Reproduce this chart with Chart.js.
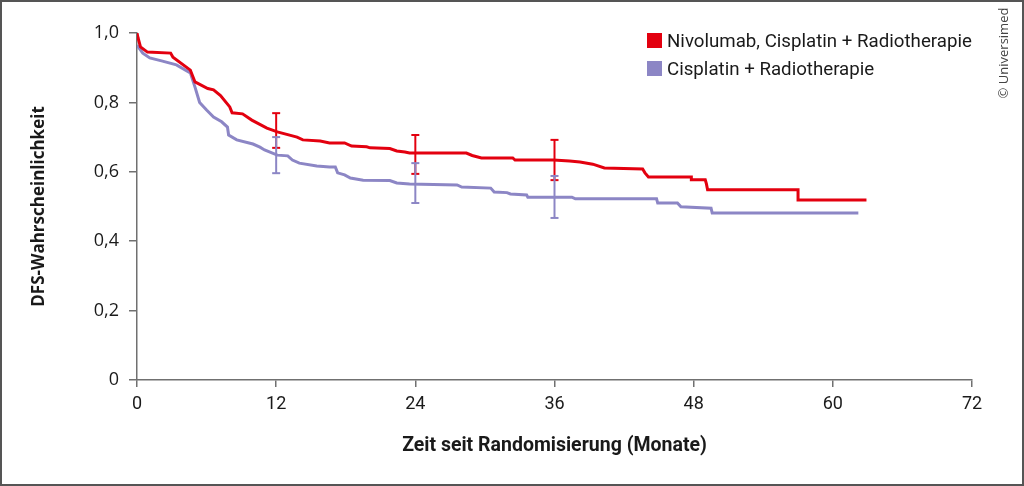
<!DOCTYPE html>
<html>
<head>
<meta charset="utf-8">
<script src="https://cdn.jsdelivr.net/npm/chart.js@4.4.1/dist/chart.umd.min.js"></script>
<style>
  body { margin: 0; background: #fff; }
  #wrap { position: relative; width: 1024px; height: 486px; overflow: hidden; }
  #frame { position: absolute; left: 0; top: 0; width: 1024px; height: 486px; box-sizing: border-box; border: 2px solid #555; pointer-events: none; }
  .leg { position: absolute; left: 647px; font: 18.7px Roboto, sans-serif; color: #1a1a1a; white-space: nowrap; }
  .leg span { display: inline-block; width: 15px; height: 15px; vertical-align: top; margin-right: 5px; margin-top: 3px; }
  #copy { position: absolute; left: 1003px; top: 53px; transform: translate(-50%, -50%) rotate(-90deg); font: 13px "Open Sans", sans-serif; color: #444; white-space: nowrap; }
</style>
</head>
<body>
<div id="wrap">
  <canvas id="km" width="1024" height="486"></canvas>
  <div class="leg" id="leg1" style="top:30px"></div>
  <div class="leg" id="leg2" style="top:58px"></div>
  <div id="copy">© Universimed</div>
  <div id="frame"></div>
</div>
<script>
const seriesNames = ['Nivolumab, Cisplatin + Radiotherapie', 'Cisplatin + Radiotherapie'];
const seriesColors = ['#e3000f', '#8c86c5'];

// Nivolumab, Cisplatin + Radiotherapie
const nivoMonths = [0, 0.1, 0.3, 0.9, 2.9, 3.1, 4.6, 5.0, 6.1, 6.6, 7.2, 8.0, 8.2, 9.1, 9.9, 11.2, 12.1, 13.8, 14.3, 15.8, 16.6,
  17.9, 18.5, 19.8, 20.1, 21.8, 22.4, 23.1, 23.5, 28.4, 28.9, 29.7, 32.4, 32.6, 35.9, 37.3, 38.2, 39.3, 40.3, 43.6, 43.8, 44.1,
  47.8, 47.8, 49.0, 49.1, 49.2, 57.0, 57.0, 62.9];
const nivoDfs = [1.0, 0.985, 0.96, 0.945, 0.942, 0.93, 0.893, 0.859, 0.84, 0.836, 0.82, 0.787, 0.77, 0.767, 0.749, 0.726, 0.715, 0.70, 0.692, 0.689, 0.683,
  0.683, 0.674, 0.672, 0.669, 0.667, 0.66, 0.657, 0.654, 0.654, 0.647, 0.64, 0.64, 0.634, 0.634, 0.631, 0.628, 0.622, 0.611, 0.608, 0.597, 0.585,
  0.585, 0.577, 0.577, 0.565, 0.548, 0.548, 0.519, 0.519];

// Cisplatin + Radiotherapie
const cisMonths = [0, 0.5, 1.1, 2.2, 3.4, 4.6, 5.0, 5.4, 6.0, 6.6, 7.3, 7.8, 7.9, 8.6, 10.0, 10.6, 11.0, 12.1, 13.0, 13.4, 14.0, 15.5, 16.6,
  17.1, 17.3, 17.9, 18.4, 19.5, 21.8, 22.4, 23.5, 27.6, 28.0, 30.5, 30.8, 31.9, 32.2, 33.6, 33.7, 37.5, 37.8, 44.8, 44.9, 46.6, 46.9,
  49.5, 49.6, 62.2];
const cisDfs = [0.965, 0.942, 0.928, 0.919, 0.908, 0.885, 0.844, 0.80, 0.778, 0.758, 0.744, 0.729, 0.706, 0.692, 0.68, 0.671, 0.663, 0.648, 0.646, 0.634, 0.625, 0.617, 0.614,
  0.614, 0.597, 0.591, 0.582, 0.576, 0.575, 0.568, 0.565, 0.562, 0.556, 0.553, 0.542, 0.540, 0.536, 0.533, 0.527, 0.527, 0.522, 0.522, 0.51, 0.51, 0.499,
  0.495, 0.481, 0.481];

// 95%-KI an 12, 24, 36 Monaten
const ciMonths = [12, 24, 36];
const nivoCiLow = [0.669, 0.594, 0.576];
const nivoCiHigh = [0.769, 0.706, 0.692];
const cisCiLow = [0.596, 0.51, 0.467];
const cisCiHigh = [0.70, 0.625, 0.588];

const xTicks = [0, 12, 24, 36, 48, 60, 72];
const yTicks = [0, 0.2, 0.4, 0.6, 0.8, 1.0];

function toPoints(xs, ys) {
  return xs.map((x, i) => ({ x: x, y: ys[i] }));
}

function curve(label, xs, ys, color, order) {
  return {
    label: label,
    data: toPoints(xs, ys),
    borderColor: color,
    borderWidth: 3,
    pointRadius: 0,
    tension: 0,
    fill: false,
    order: order
  };
}

function errorBars(xs, lows, highs, color) {
  return xs.map((x, i) => ({
    label: 'ci',
    data: [{ x: x, y: lows[i] }, { x: x, y: highs[i] }],
    borderColor: color,
    borderWidth: 2,
    pointStyle: 'line',
    pointRadius: 4,
    pointBorderWidth: 2,
    pointBorderColor: color,
    order: 0
  }));
}

function formatY(v) {
  if (v === 0) return '0';
  return v.toFixed(1).replace('.', ',');
}

document.getElementById('leg1').innerHTML = `<span style="background:${seriesColors[0]}"></span>${seriesNames[0]}`;
document.getElementById('leg2').innerHTML = `<span style="background:${seriesColors[1]}"></span>${seriesNames[1]}`;

const datasets = [
  curve(seriesNames[0], nivoMonths, nivoDfs, seriesColors[0], 1),
  curve(seriesNames[1], cisMonths, cisDfs, seriesColors[1], 2),
  ...errorBars(ciMonths, cisCiLow, cisCiHigh, seriesColors[1]),
  ...errorBars(ciMonths, nivoCiLow, nivoCiHigh, seriesColors[0])
];

const km = new Chart(document.getElementById('km'), {
  type: 'line',
  data: { datasets: datasets },
  options: {
    responsive: false,
    animation: false,
    layout: { padding: { left: 0, right: 52, top: 33, bottom: 0 } },
    plugins: { legend: { display: false }, tooltip: { enabled: false } },
    scales: {
      x: {
        type: 'linear',
        min: 0,
        max: 72,
        afterFit: scale => { scale.height = 106; },
        afterBuildTicks: scale => { scale.ticks = xTicks.map(v => ({ value: v })); },
        grid: { display: true, drawOnChartArea: false, drawTicks: true, tickLength: 7, color: '#707070', lineWidth: 1.5 },
        border: { display: true, color: '#707070', width: 1.5 },
        ticks: { padding: 7, color: '#1a1a1a', font: { family: 'Roboto, sans-serif', size: 18 } },
        title: {
          display: true,
          text: 'Zeit seit Randomisierung (Monate)',
          color: '#1a1a1a',
          padding: { top: 0, bottom: 28 },
          font: { family: 'Roboto, sans-serif', size: 19.5, weight: 'bold' }
        }
      },
      y: {
        type: 'linear',
        min: 0,
        max: 1,
        afterFit: scale => { scale.width = 137; },
        afterBuildTicks: scale => { scale.ticks = yTicks.map(v => ({ value: v })); },
        grid: { display: true, drawOnChartArea: false, drawTicks: true, tickLength: 8, color: '#707070', lineWidth: 1.5 },
        border: { display: true, color: '#707070', width: 1.5 },
        ticks: {
          padding: 10,
          color: '#1a1a1a',
          font: { family: '"Open Sans", sans-serif', size: 18 },
          callback: v => formatY(v)
        },
        title: {
          display: true,
          text: 'DFS-Wahrscheinlichkeit',
          color: '#1a1a1a',
          padding: { top: 29, bottom: 0 },
          font: { family: '"Open Sans", sans-serif', size: 17, weight: 'bold' }
        }
      }
    }
  }
});
</script>
</body>
</html>
